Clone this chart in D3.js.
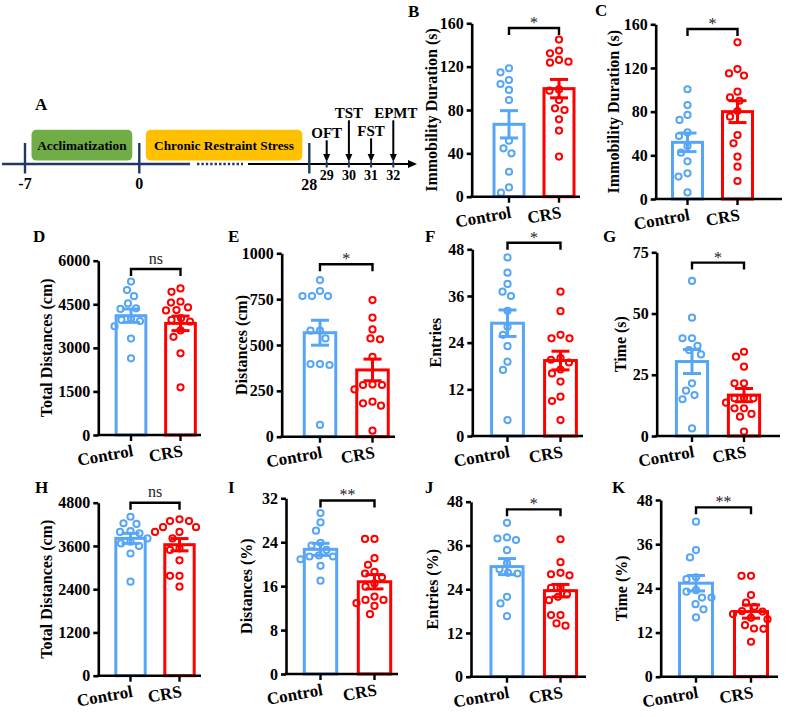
<!DOCTYPE html>
<html><head><meta charset="utf-8">
<script src="https://cdn.jsdelivr.net/npm/d3@7"></script>
<style>
body{margin:0;background:#fff}
svg text{font-family:"Liberation Serif","Times New Roman",serif;font-weight:bold;fill:#000}
</style>
</head><body>
<svg id="c" width="790" height="717"></svg>
<script>
// ---------------- DATA ----------------
const groups = ["Control", "CRS"];

// Panel A timeline
const timelineDays = [-7, 0, 28];
const testDays = [29, 30, 31, 32];
const testNames = ["OFT", "TST", "FST", "EPMT"];
const phaseNames = ["Acclimatization", "Chronic Restraint Stress"];
const phaseStart = [-7, 0];
const phaseEnd = [0, 28];

// Panels B-K individual points
const bControl = [118.5, 114.8, 107.7, 104, 98.5, 89.2, 51.7, 44.6, 40, 23, 8.6, 3.7];
const bCRS = [145, 134.8, 132.3, 126.2, 124.6, 123.7, 99, 97.8, 89.2, 81.5, 80, 71.4, 61, 37];
const cControl = [100.5, 86, 77, 72.4, 61, 57.7, 48.5, 42.4, 34.5, 23.5, 20.5, 6];
const cCRS = [143.5, 119, 115, 113, 98.3, 93, 90, 80.6, 75.4, 58.6, 51, 38.8, 29.6, 16.5];
const dControl = [5280, 4990, 4780, 4530, 4360, 4340, 4000, 3960, 3920, 3740, 3320, 2640];
const dCRS = [5046, 4930, 4590, 4560, 4390, 4300, 4290, 4020, 3960, 3900, 3600, 3380, 2810, 1640];
const eControl = [854, 794, 767, 767, 767, 578, 578, 536, 396, 396, 391, 64];
const eCRS = [745, 649, 585, 536, 531, 436, 285, 282, 282, 258, 191, 182, 169, 33];
const fControl = [45.9, 42, 39.1, 37.1, 36, 32.2, 28.1, 26, 23.1, 19.1, 17, 4.1];
const fCRS = [37.1, 32.1, 26, 25.1, 25.1, 20, 19.6, 18.9, 17.1, 16.1, 14, 10.1, 9, 4.1];
const gControl = [63.3, 48.3, 39.9, 39.9, 36.8, 35.1, 33.3, 21.5, 18.5, 16.7, 15, 3.1];
const gCRS = [34.4, 32.4, 28.3, 21.5, 21.5, 15.4, 15.4, 15.4, 13.6, 11.3, 11.3, 9, 7.9, 1.8];
const hControl = [4410, 4230, 4210, 4010, 3990, 3950, 3810, 3720, 3670, 3600, 3390, 2610];
const hCRS = [4340, 4290, 4290, 4120, 4120, 3990, 3990, 3810, 3530, 3490, 3200, 2770, 2770, 2470];
const iControl = [29.3, 27.6, 26.1, 23.9, 23.4, 22.6, 21.6, 21.4, 21.4, 20.9, 19.7, 17];
const iCRS = [24.6, 24.6, 21.1, 19.9, 18.6, 18.3, 17.6, 16.5, 15.9, 14.1, 13.5, 13.5, 12.9, 12.4, 10.9];
const jControl = [42.2, 38.2, 37.9, 37.5, 34.7, 31.1, 29.5, 28.5, 28.3, 21.9, 20.1, 16.6];
const jCRS = [37.7, 31.4, 28.5, 28.1, 27.8, 24.4, 24.4, 22.6, 21.9, 21, 16.9, 16.9, 14.6, 14];
const kControl = [42.1, 34.4, 32.4, 27, 26.5, 23.5, 23.1, 21.5, 21.5, 19.7, 18.3, 16.1];
const kCRS = [27.4, 27.4, 22.2, 20.1, 19, 17.8, 17.7, 17, 16, 15.6, 14, 13.1, 13, 9.5];

const panelIds = ["B", "C", "D", "E", "F", "G", "H", "I", "J", "K"];
const yTitles = ["Immobility Duration (s)", "Immobility Duration (s)", "Total Distances (cm)", "Distances (cm)",
  "Entries", "Time (s)", "Total Distances (cm)", "Distances (%)", "Entries (%)", "Time (%)"];
const yTicks = [[0, 40, 80, 120, 160], [0, 40, 80, 120, 160], [0, 1500, 3000, 4500, 6000], [0, 250, 500, 750, 1000],
  [0, 12, 24, 36, 48], [0, 25, 50, 75], [0, 1200, 2400, 3600, 4800], [0, 8, 16, 24, 32], [0, 12, 24, 36, 48], [0, 12, 24, 36, 48]];
const means = [[66.8, 99.7], [51.9, 80], [4107, 3843], [567, 364], [29, 19.4], [30.4, 16.7], [3810, 3635], [22.7, 16.8], [30.2, 23.6], [25.4, 17.7]];
const sems = [[12.6, 8.5], [8.5, 10], [230, 250], [68, 59], [3.4, 2.4], [4.9, 2.7], [140, 170], [1.1, 1.3], [2.2, 1.7], [2.1, 1.8]];
const sigLabels = ["*", "*", "ns", "*", "*", "*", "ns", "**", "*", "**"];
const sigLevels = [155.7, 155.7, 5714, 940, 49.7, 70.8, 4800, 31.6, 45.9, 46];
const points = [[bControl, bCRS], [cControl, cCRS], [dControl, dCRS], [eControl, eCRS], [fControl, fCRS],
  [gControl, gCRS], [hControl, hCRS], [iControl, iCRS], [jControl, jCRS], [kControl, kCRS]];

// ---------------- LAYOUT / STYLE ----------------
const colors = ["#57a6f5", "#ff0000"];
const layout = [
  {ax: 471.7, top: 23.3, bot: 196.7, r: [484, 584], xEnd: 580, tx: 431.7, lx: 408, ly: 17},
  {ax: 655.7, top: 24.3, bot: 199, r: [662.5, 762.5], xEnd: 782, tx: 613, lx: 595, ly: 16},
  {ax: 98.3, top: 260.7, bot: 435, r: [106.25, 205.25], xEnd: 201, tx: 46.7, lx: 33, ly: 242},
  {ax: 281.7, top: 253.3, bot: 436.7, r: [293.75, 398.75], xEnd: 395, tx: 241.7, lx: 228, ly: 242},
  {ax: 472.3, top: 249.3, bot: 436, r: [481, 587], xEnd: 583, tx: 435, lx: 425, ly: 242},
  {ax: 656.7, top: 252.3, bot: 436, r: [666, 770], xEnd: 780, tx: 620.7, lx: 603, ly: 242},
  {ax: 98.3, top: 502.7, bot: 675.7, r: [106, 204], xEnd: 201, tx: 46, lx: 35, ly: 493},
  {ax: 286, top: 498.3, bot: 674, r: [293.5, 401.5], xEnd: 398, tx: 246.7, lx: 228, ly: 493},
  {ax: 471, top: 501.7, bot: 676.7, r: [480.25, 587.25], xEnd: 586, tx: 432.3, lx: 425, ly: 493},
  {ax: 660.7, top: 500, bot: 676.7, r: [668.5, 778.5], xEnd: 778, tx: 621.7, lx: 612, ly: 493}
];

const svg = d3.select("#c");

// beeswarm placement
function swarm(values, y, cx, minD) {
  const placed = [];
  const order = values.map((v, i) => ({v, i})).sort((a, b) => b.v - a.v);
  for (const p of order) {
    const py = y(p.v);
    let px = cx;
    for (let k = 0; k < 400; k++) {
      const off = (k % 2 === 0 ? 1 : -1) * Math.ceil(k / 2) * 0.5;
      const tx = cx + off;
      if (placed.every(q => (q.x - tx) ** 2 + (q.y - py) ** 2 >= minD * minD)) { px = tx; break; }
    }
    placed.push({x: px, y: py, v: p.v});
  }
  return placed;
}

// ---------------- PANELS B-K ----------------
panelIds.forEach((id, pi) => {
  const L = layout[pi];
  const g = svg.append("g");
  const y = d3.scaleLinear().domain([0, d3.max(yTicks[pi])]).range([L.bot, L.top]);
  const x = d3.scaleBand().domain(groups).range(L.r).paddingInner(0.4).paddingOuter(0.2);
  const bw = x.bandwidth();

  // bars
  g.selectAll("rect.bar").data(groups).join("rect")
    .attr("x", d => x(d)).attr("width", bw)
    .attr("y", (d, i) => y(means[pi][i]))
    .attr("height", (d, i) => y(0) - y(means[pi][i]))
    .attr("fill", "none").attr("stroke", (d, i) => colors[i]).attr("stroke-width", 3);

  // points
  groups.forEach((grp, gi) => {
    const pts = swarm(points[pi][gi], y, x(grp) + bw / 2, 9.2);
    g.selectAll(null).data(pts).join("circle")
      .attr("cx", d => d.x).attr("cy", d => d.y).attr("r", 3.1)
      .attr("fill", "none").attr("stroke", colors[gi]).attr("stroke-width", 2);
  });

  // error bars
  groups.forEach((grp, gi) => {
    const cx = x(grp) + bw / 2;
    const m = means[pi][gi], s = sems[pi][gi];
    const eg = g.append("g").attr("stroke", colors[gi]).attr("stroke-width", 3);
    eg.append("line").attr("x1", cx).attr("x2", cx).attr("y1", y(m - s)).attr("y2", y(m + s));
    eg.append("line").attr("x1", cx - 9).attr("x2", cx + 9).attr("y1", y(m + s)).attr("y2", y(m + s));
    eg.append("line").attr("x1", cx - 9).attr("x2", cx + 9).attr("y1", y(m - s)).attr("y2", y(m - s));
  });

  // y axis
  const ya = g.append("g").attr("transform", `translate(${L.ax},0)`)
    .call(d3.axisLeft(y).tickValues(yTicks[pi]).tickSize(5).tickSizeOuter(0).tickPadding(3).tickFormat(d3.format("d")));
  ya.select(".domain").attr("stroke", "#000").attr("stroke-width", 2.6);
  ya.selectAll(".tick line").attr("stroke", "#000").attr("stroke-width", 2.6);
  ya.selectAll(".tick text").attr("font-size", 16).attr("font-family", null).attr("fill", "#000");

  // x axis
  g.append("line").attr("x1", L.ax - 1.3).attr("x2", L.xEnd).attr("y1", L.bot).attr("y2", L.bot)
    .attr("stroke", "#000").attr("stroke-width", 2.6);
  const xa = g.append("g").attr("transform", `translate(0,${L.bot})`)
    .call(d3.axisBottom(x).tickSize(6).tickSizeOuter(0));
  xa.select(".domain").remove();
  xa.selectAll(".tick line").attr("stroke", "#000").attr("stroke-width", 2.4);
  xa.selectAll(".tick text").attr("font-size", 17).attr("font-family", null).attr("fill", "#000")
    .attr("x", 0).attr("y", 0).attr("dy", 0).attr("text-anchor", "end")
    .attr("transform", "translate(3,21) rotate(-10)");

  // y title
  const mid = (L.top + L.bot) / 2;
  g.append("text").attr("transform", `translate(${L.tx + 5.5},${mid}) rotate(-90)`)
    .attr("text-anchor", "middle").attr("font-size", 16).text(yTitles[pi]);

  // significance bracket
  const c1 = x(groups[0]) + bw / 2, c2 = x(groups[1]) + bw / 2;
  const by = y(sigLevels[pi]);
  g.append("path").attr("d", `M${c1},${by + 7}V${by}H${c2}V${by + 7}`)
    .attr("fill", "none").attr("stroke", "#000").attr("stroke-width", 2.4);
  const isStar = sigLabels[pi].includes("*");
  g.append("text").attr("x", (c1 + c2) / 2).attr("y", by - (isStar ? 0 : 5.5))
    .attr("text-anchor", "middle").attr("font-size", 16).style("font-weight", "normal")
    .style("fill", "#222").text(sigLabels[pi]);

  // panel letter
  g.append("text").attr("x", L.lx).attr("y", L.ly).attr("font-size", 17).text(id);
});

// ---------------- PANEL A ----------------
const navy = "#1f3864";
const tl = d3.scaleLinear().domain([-7, 0, 28, 29, 32]).range([25, 139.3, 309.3, 326.7, 393.3]);
const ag = svg.append("g");
const lineY = 164;
ag.append("text").attr("x", 35).attr("y", 110).attr("font-size", 17).text("A");
ag.append("line").attr("x1", 2).attr("x2", 190).attr("y1", lineY).attr("y2", lineY)
  .attr("stroke", navy).attr("stroke-width", 2.6);
ag.append("line").attr("x1", 197).attr("x2", 243).attr("y1", lineY).attr("y2", lineY)
  .attr("stroke", navy).attr("stroke-width", 2.6).attr("stroke-dasharray", "2.4,2");
ag.append("line").attr("x1", 248).attr("x2", 409).attr("y1", lineY).attr("y2", lineY)
  .attr("stroke", "#000").attr("stroke-width", 2.2);
ag.append("path").attr("d", `M${408},${lineY - 4}L${417},${lineY}L${408},${lineY + 4}Z`).attr("fill", "#000");

// phase boxes
phaseNames.forEach((nm, i) => {
  const x0 = tl(phaseStart[i]) + 6.5, x1 = tl(phaseEnd[i]) - 7;
  ag.append("rect").attr("x", x0).attr("y", 129.8).attr("width", x1 - x0).attr("height", 30.8)
    .attr("rx", 5).attr("fill", i === 0 ? "#70ad47" : "#ffc000");
  ag.append("text").attr("x", (x0 + x1) / 2).attr("y", 150).attr("text-anchor", "middle")
    .attr("font-size", 13.3).text(nm);
});

// major ticks
ag.selectAll(null).data(timelineDays).join("line")
  .attr("x1", d => tl(d)).attr("x2", d => tl(d)).attr("y1", 143).attr("y2", 173.5)
  .attr("stroke", navy).attr("stroke-width", 2.4);
ag.selectAll(null).data(timelineDays).join("text")
  .attr("x", d => tl(d)).attr("y", (d, i) => i === 2 ? 190 : 188.5).attr("text-anchor", "middle")
  .attr("font-size", 16).text(d => d);

// test days
ag.selectAll(null).data(testDays).join("line")
  .attr("x1", d => tl(d)).attr("x2", d => tl(d)).attr("y1", 161.5).attr("y2", 167.5)
  .attr("stroke", navy).attr("stroke-width", 2);
ag.selectAll(null).data(testDays).join("text")
  .attr("x", d => tl(d)).attr("y", 180).attr("text-anchor", "middle").attr("font-size", 14).text(d => d);
testDays.forEach((d, i) => {
  const xx = tl(d);
  const labY = i % 2 === 0 ? (i === 0 ? 138.3 : 136.3) : 118.3;
  ag.append("line").attr("x1", xx).attr("x2", xx).attr("y1", labY + 2).attr("y2", 155)
    .attr("stroke", "#000").attr("stroke-width", 2);
  ag.append("path").attr("d", `M${xx - 3.5},${154}L${xx},${162}L${xx + 3.5},${154}Z`).attr("fill", "#000");
  ag.append("text").attr("x", xx + (i === 3 ? 2.5 : 0)).attr("y", labY).attr("text-anchor", "middle")
    .attr("font-size", 15).text(testNames[i]);
});
</script>
</body></html>
